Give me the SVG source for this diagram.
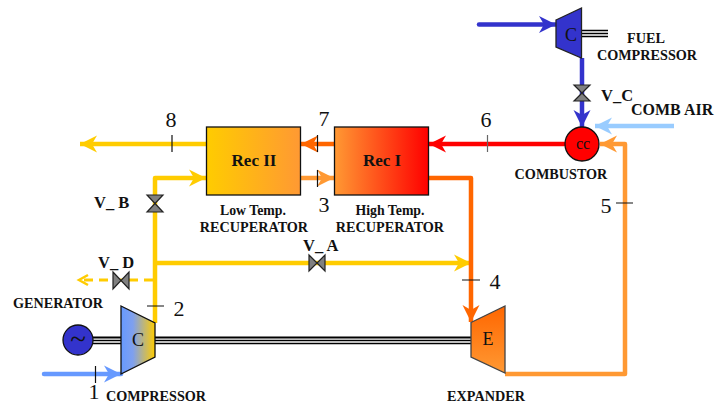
<svg xmlns="http://www.w3.org/2000/svg" width="727" height="404" viewBox="0 0 727 404">
<style>
text{font-family:"Liberation Serif","Times New Roman",serif;fill:#111}
.lb{font-weight:bold;font-size:14.200px;text-anchor:middle}
.lw{font-weight:bold;font-size:13.800px;text-anchor:middle}
.vl{font-weight:bold;font-size:16.500px}
.n{font-size:22px;text-anchor:middle}
.c{font-size:18px;text-anchor:middle}
.cc{font-size:16px;text-anchor:middle}
.rec{font-weight:bold;font-size:17px;text-anchor:middle}
.ln{fill:none;stroke-width:4.5;stroke-linejoin:round}
.dash{fill:none;stroke-width:3;stroke-dasharray:9 6}
.t{stroke:#111;stroke-width:1.2;fill:none}
.sh{stroke:#000;stroke-width:1.3;fill:none}
.valve{fill:#808080;stroke:#222;stroke-width:1.2}
.box{stroke:#111;stroke-width:1.3}
</style>
<defs>
<linearGradient id="gC"><stop offset="0" stop-color="#6699ff"/><stop offset="0.35" stop-color="#7fa0ee"/><stop offset="1" stop-color="#ffcc00"/></linearGradient>
<linearGradient id="g2"><stop offset="0" stop-color="#ffcc00"/><stop offset="1" stop-color="#ff9933"/></linearGradient>
<linearGradient id="g1"><stop offset="0" stop-color="#ff9933"/><stop offset="1" stop-color="#ff0000"/></linearGradient>
<linearGradient id="gE" x1="0" y1="0" x2="0" y2="1"><stop offset="0" stop-color="#ff6600"/><stop offset="1" stop-color="#ff9933"/></linearGradient>
<marker id="aY" markerUnits="userSpaceOnUse" markerWidth="18" markerHeight="18" viewBox="0 -9 18 18" refX="17" refY="0" orient="auto"><path d="M0,-8.5L17,0L0,8.5L5,0z" fill="#ffcc00"/></marker>
<marker id="aO" markerUnits="userSpaceOnUse" markerWidth="18" markerHeight="18" viewBox="0 -9 18 18" refX="17" refY="0" orient="auto"><path d="M0,-8.5L17,0L0,8.5L5,0z" fill="#ff6600"/></marker>
<marker id="aL" markerUnits="userSpaceOnUse" markerWidth="18" markerHeight="18" viewBox="0 -9 18 18" refX="17" refY="0" orient="auto"><path d="M0,-8.5L17,0L0,8.5L5,0z" fill="#ff9933"/></marker>
<marker id="aR" markerUnits="userSpaceOnUse" markerWidth="18" markerHeight="18" viewBox="0 -9 18 18" refX="17" refY="0" orient="auto"><path d="M0,-8.5L17,0L0,8.5L5,0z" fill="#ff0000"/></marker>
<marker id="aB" markerUnits="userSpaceOnUse" markerWidth="18" markerHeight="18" viewBox="0 -9 18 18" refX="17" refY="0" orient="auto"><path d="M0,-8.5L17,0L0,8.5L5,0z" fill="#6699ff"/></marker>
<marker id="aD" markerUnits="userSpaceOnUse" markerWidth="18" markerHeight="18" viewBox="0 -9 18 18" refX="17" refY="0" orient="auto"><path d="M0,-8.5L17,0L0,8.5L5,0z" fill="#3333cc"/></marker>
<marker id="aS" markerUnits="userSpaceOnUse" markerWidth="18" markerHeight="18" viewBox="0 -9 18 18" refX="17" refY="0" orient="auto"><path d="M0,-8.5L17,0L0,8.5L5,0z" fill="#99ccff"/></marker>
</defs>

<g id="connectors">
<path class="ln" stroke="#6699ff" stroke-linecap="round" d="M44,374H121" marker-end="url(#aB)"/>
<path class="ln" stroke="#ffcc00" d="M155,323V178H206" marker-end="url(#aY)"/>
<path class="ln" stroke="#ffcc00" d="M155,263H471" marker-end="url(#aY)"/>
<path class="dash" stroke="#ffcc00" d="M153,280H82"/>
<path fill="none" stroke="#ffcc00" stroke-width="2.5" d="M88,275L79,280L88,285"/>
<path class="ln" stroke="#ffcc00" d="M206,144H80" marker-end="url(#aY)"/>
<path class="ln" stroke="#ff6600" d="M334,144H301" marker-end="url(#aO)"/>
<path class="ln" stroke="#ff9933" d="M300,178H334" marker-end="url(#aL)"/>
<path class="ln" stroke="#ff6600" d="M429,178H471V322" marker-end="url(#aO)"/>
<path class="ln" stroke="#ff0000" d="M566,144H429" marker-end="url(#aR)"/>
<path class="ln" stroke="#ff9933" d="M505,374H625V144H600" marker-end="url(#aL)"/>
<path class="ln" stroke="#3333cc" stroke-linecap="round" d="M479,24.500H556" marker-end="url(#aD)"/>
<path class="ln" stroke="#3333cc" d="M582,58V127" marker-end="url(#aD)"/>
<path class="ln" stroke="#99ccff" d="M674,126H595" marker-end="url(#aS)"/>
<g id="shafts">
<path stroke="#000" stroke-width="2" fill="none" d="M93,337.500H121M155,337.500H471"/>
<path class="sh" d="M93,340.500H121M155,340.500H471M93,343.500H121M155,343.500H471"/>
<path class="sh" d="M582,30.500H608M582,33.500H608M582,36.500H608"/>
</g>
<g id="ticks">
<path class="t" d="M95.500,366V383M147,306H164M172,135V152M317.500,135V152M317.500,170V187M462,280H480M616,203H633"/>
<path class="t" style="stroke:#666" d="M487.500,135V152"/>
</g>
</g>

<g id="compressor"><polygon class="box" fill="url(#gC)" points="121,306 155,323 155,357 121,374"/><text class="c" x="138" y="346">C</text><text class="lb" x="156" y="401">COMPRESSOR</text></g>
<g id="generator"><circle cx="78" cy="340" r="15" fill="#3333cc" stroke="#111" stroke-width="1.300"/><text x="78" y="349" font-size="29" text-anchor="middle">~</text><text class="lb" x="58" y="308">GENERATOR</text></g>
<g id="expander"><polygon stroke="#444" stroke-width="1.300" fill="url(#gE)" points="471,322.500 505,306 505,373 471,357"/><text class="c" x="488" y="345">E</text><text class="lb" x="486" y="401">EXPANDER</text></g>
<g id="rec2"><rect class="box" x="206.500" y="127" width="94" height="68" fill="url(#g2)"/><text class="rec" x="254" y="166">Rec II</text><text class="lw" x="253" y="215">Low Temp.</text><text class="lb" x="254" y="232">RECUPERATOR</text></g>
<g id="rec1"><rect class="box" x="334.500" y="127" width="94" height="68" fill="url(#g1)"/><text class="rec" x="382" y="166">Rec I</text><text class="lw" x="390" y="215">High Temp.</text><text class="lb" x="390" y="232">RECUPERATOR</text></g>
<g id="combustor"><circle cx="582" cy="144" r="17" fill="#ff0000" stroke="#111" stroke-width="1.300"/><text class="cc" x="583" y="149">cc</text><text class="lb" x="561" y="179">COMBUSTOR</text></g>
<g id="fuel-compressor"><polygon fill="#3333cc" stroke="#222" stroke-width="1.300" points="556,20 581.500,8 581.500,58 556,47"/><text class="c" x="571" y="41">C</text><text class="lb" x="646" y="43">FUEL</text><text class="lb" x="647" y="60">COMPRESSOR</text></g>
<g id="comb-air"><text x="631" y="115" font-weight="bold" font-size="16">COMB AIR</text></g>
<g id="valve-a"><polygon class="valve" points="309,255 325,271 325,255 309,271"/><text class="vl" x="303" y="251">V_ A</text></g>
<g id="valve-b"><polygon class="valve" points="147,195 163,195 147,212 163,212"/><text class="vl" x="94" y="208">V_ B</text></g>
<g id="valve-c"><polygon class="valve" points="574,85 590,85 574,101 590,101"/><text class="vl" x="601" y="101">V_C</text></g>
<g id="valve-d"><polygon class="valve" points="113,272 129,289 129,272 113,289"/><text class="vl" x="98" y="268">V_ D</text></g>
<g id="numbers">
<text class="n" x="94" y="399">1</text><text class="n" x="179" y="316">2</text><text class="n" x="324" y="212">3</text><text class="n" x="495" y="289">4</text><text class="n" x="606" y="213">5</text><text class="n" x="486" y="127">6</text><text class="n" x="324" y="126">7</text><text class="n" x="171" y="127">8</text>
</g>
</svg>
